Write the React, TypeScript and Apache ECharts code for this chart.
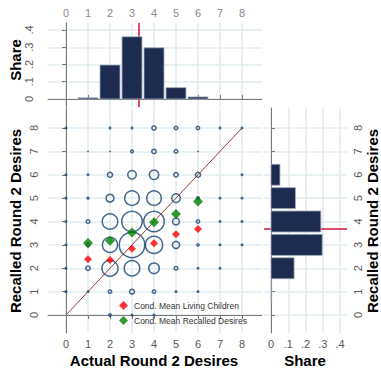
import React, { useEffect, useRef } from "react";
import * as echarts from "echarts";

const desireTicks = [0, 1, 2, 3, 4, 5, 6, 7, 8];
const shareTicks = [0, 0.1, 0.2, 0.3, 0.4];

// [actual desires, recalled desires, respondents]
const cells: [number, number, number][] = [
  [0, 8, 3], [2, 8, 3], [3, 8, 3], [4, 8, 11], [5, 8, 8], [6, 8, 8], [7, 8, 3], [8, 8, 3],
  [1, 7, 1], [2, 7, 1], [3, 7, 6], [4, 7, 12], [5, 7, 9], [6, 7, 1],
  [0, 6, 3], [1, 6, 3], [2, 6, 15], [3, 6, 35], [4, 6, 42], [5, 6, 12], [6, 6, 15], [8, 6, 3],
  [0, 5, 3], [1, 5, 4], [2, 5, 30], [3, 5, 89], [4, 5, 89], [5, 5, 35], [6, 5, 6], [7, 5, 3], [8, 5, 3],
  [0, 4, 3], [1, 4, 9], [2, 4, 100], [3, 4, 167], [4, 4, 167], [5, 4, 24], [6, 4, 8], [7, 4, 3], [8, 4, 3],
  [0, 3, 3], [1, 3, 9], [2, 3, 95], [3, 3, 252], [4, 3, 120], [5, 3, 26], [6, 3, 5], [7, 3, 3], [8, 3, 3],
  [0, 2, 3], [1, 2, 12], [2, 2, 105], [3, 2, 100], [4, 2, 50], [5, 2, 9], [6, 2, 3], [7, 2, 3],
  [0, 1, 3], [1, 1, 3], [2, 1, 8], [3, 1, 14], [4, 1, 8], [5, 1, 3], [6, 1, 3],
  [2, 0, 5], [3, 0, 3], [4, 0, 3],
];

// share of respondents by actual desires
const actualShare: [number, number][] = [
  [1, 0.007], [2, 0.197], [3, 0.361], [4, 0.297], [5, 0.066], [6, 0.012],
];
// share of respondents by recalled desires: [share, recalled]
const recalledShare: [number, number][] = [
  [0.004, 1], [0.134, 2], [0.297, 3], [0.289, 4], [0.142, 5], [0.052, 6],
];
const meanActual = 3.32;
const meanRecalled = 3.7;

const condMeanLiving: [number, number][] = [
  [1, 2.38], [2, 2.35], [3, 2.83], [4, 3.07], [5, 3.45], [6, 3.68],
];
const condMeanRecalled: [number, number][] = [
  [1, 3.08], [2, 3.18], [3, 3.53], [4, 3.97], [5, 4.32], [6, 4.86],
];
const diagonal: [number, number][] = [[0, 0], [8, 8]];

const X_MIN = -0.818, X_MAX = 8.909;
const Y_MIN = -0.77, Y_MAX = 8.856;
const S_MIN_TOP = -0.0464, S_MIN_RIGHT = -0.0406, S_MAX = 0.4406;

const NAVY = "#1a4270";
const BAR = "#1d2b50";
const GRID = "#e3ecef";
const AXIS = "#777777";
const LABEL = "#595959";
const MEAN_RED = "#d0103a";
const FONT = "Liberation Sans, Arial, sans-serif";

const shareFmt = (v: number) => (v === 0 ? "0" : "." + Math.round(v * 10));

export default function App() {
  const ref = useRef<HTMLDivElement>(null);
  useEffect(() => {
    if (!ref.current) return;
    const chart = echarts.init(ref.current, null, { renderer: "svg" });
    const split = { show: true, lineStyle: { color: GRID, width: 1.6 } };
    const axLine = { show: true, lineStyle: { color: AXIS, width: 1 } };
    const tick = (vals: number[]) => ({ show: true, length: 4, customValues: vals, lineStyle: { color: AXIS } });
    const lbl = (vals: number[], extra: any = {}) => ({
      customValues: vals, color: LABEL, fontSize: 11, fontFamily: FONT, ...extra,
    });
    const barRect = (fill: string) => ({ fill, stroke: "#a7b0c0", lineWidth: 0.8 });
    const meanLine = (xi: number, yi: number, d: any) => ({
      type: "line", xAxisIndex: xi, yAxisIndex: yi, z: 1, data: [], symbol: "none",
      markLine: {
        silent: true, symbol: "none", label: { show: false }, z: 1,
        lineStyle: { color: MEAN_RED, width: 1.5, type: "solid" },
        data: [d],
      },
    });

    chart.setOption({
      animation: false,
      backgroundColor: "#ffffff",
      textStyle: { fontFamily: FONT },
      grid: [
        { left: 48, top: 108, width: 214, height: 225 },
        { left: 48, top: 23, width: 214, height: 84 },
        { left: 264, top: 108, width: 83, height: 225 },
      ],
      xAxis: [
        {
          gridIndex: 0, type: "value", min: X_MIN, max: X_MAX, position: "bottom",
          axisLine: axLine, axisTick: tick(desireTicks), splitLine: split,
          axisLabel: lbl(desireTicks, { margin: 5 }),
        },
        {
          gridIndex: 1, type: "value", min: X_MIN, max: X_MAX, position: "top",
          axisLine: axLine, axisTick: tick(desireTicks), splitLine: split,
          axisLabel: lbl(desireTicks, { margin: 5, color: "#8a8a8a" }),
        },
        {
          gridIndex: 2, type: "value", min: S_MIN_RIGHT, max: S_MAX, position: "bottom",
          axisLine: { show: false }, axisTick: { show: false, customValues: shareTicks }, splitLine: split,
          axisLabel: lbl(shareTicks, { margin: 5, formatter: shareFmt }),
        },
      ],
      yAxis: [
        {
          gridIndex: 0, type: "value", min: Y_MIN, max: Y_MAX, position: "left",
          axisLine: axLine, axisTick: tick(desireTicks), splitLine: split,
          axisLabel: lbl(desireTicks, { rotate: 90, margin: 9 }),
        },
        {
          gridIndex: 1, type: "value", min: S_MIN_TOP, max: S_MAX, position: "left",
          axisLine: axLine, axisTick: tick(shareTicks), splitLine: split,
          axisLabel: lbl(shareTicks, { rotate: 90, margin: 14, formatter: shareFmt }),
        },
        {
          gridIndex: 2, type: "value", min: Y_MIN, max: Y_MAX, position: "right",
          axisLine: axLine, axisTick: tick(desireTicks), splitLine: split,
          axisLabel: lbl(desireTicks, { rotate: 90, margin: 5 }),
        },
      ],
      legend: {
        orient: "vertical", left: 119, top: 301, itemWidth: 9, itemHeight: 9, itemGap: 6,
        padding: 0, icon: "diamond",
        textStyle: { fontSize: 8.5, color: "#333333", fontFamily: FONT, padding: [0, 0, 0, 1] },
        data: ["Cond. Mean Living Children", "Cond. Mean Recalled Desires"],
      },
      series: [
        {
          type: "scatter", xAxisIndex: 0, yAxisIndex: 0, z: 2,
          data: cells.map(([x, y, n]) => {
            const d = 1.7 * Math.sqrt(n);
            const dot = n <= 3;
            return {
              value: [x, y],
              symbolSize: dot ? d : d - 1.5,
              itemStyle: dot
                ? { color: NAVY, borderWidth: 0 }
                : { color: "rgba(0,0,0,0)", borderColor: NAVY, borderWidth: 1.5 },
            };
          }),
          symbol: "circle",
          silent: true,
        },
        {
          type: "line", xAxisIndex: 0, yAxisIndex: 0, z: 3, data: diagonal,
          symbol: "none", lineStyle: { color: "#8f3b3b", width: 1 }, silent: true,
        },
        {
          name: "Cond. Mean Living Children", type: "scatter", xAxisIndex: 0, yAxisIndex: 0, z: 4,
          data: condMeanLiving, symbol: "diamond", symbolSize: 8,
          itemStyle: { color: "#ff0000" },
        },
        {
          name: "Cond. Mean Recalled Desires", type: "scatter", xAxisIndex: 0, yAxisIndex: 0, z: 5,
          data: condMeanRecalled, symbol: "diamond", symbolSize: 10,
          itemStyle: { color: "#008000" },
        },
        meanLine(1, 1, { xAxis: meanActual }),
        meanLine(2, 2, { yAxis: meanRecalled }),
        {
          type: "custom", xAxisIndex: 1, yAxisIndex: 1, z: 3, data: actualShare,
          renderItem: (_p: any, api: any) => {
            const x = api.value(0), v = api.value(1);
            const a = api.coord([x - 0.455, v]);
            const b = api.coord([x + 0.455, 0]);
            return { type: "rect", shape: { x: a[0], y: a[1], width: b[0] - a[0], height: b[1] - a[1] }, style: barRect(BAR) };
          },
        },
        {
          type: "custom", xAxisIndex: 2, yAxisIndex: 2, z: 3, data: recalledShare,
          renderItem: (_p: any, api: any) => {
            const v = api.value(0), y = api.value(1);
            const a = api.coord([0, y + 0.45]);
            const b = api.coord([v, y - 0.45]);
            return { type: "rect", shape: { x: a[0], y: a[1], width: b[0] - a[0], height: b[1] - a[1] }, style: barRect(BAR) };
          },
        },
      ],
      graphic: [
        { type: "text", x: 15, y: 60, rotation: Math.PI / 2, style: { text: "Share", font: `bold 15px ${FONT}`, fill: "#000", align: "center", verticalAlign: "middle" } },
        { type: "text", x: 15, y: 221, rotation: Math.PI / 2, style: { text: "Recalled Round 2 Desires", font: `bold 15px ${FONT}`, fill: "#000", align: "center", verticalAlign: "middle" } },
        { type: "text", x: 372, y: 221, rotation: Math.PI / 2, style: { text: "Recalled Round 2 Desires", font: `bold 15px ${FONT}`, fill: "#000", align: "center", verticalAlign: "middle" } },
        { type: "text", x: 154, y: 360, style: { text: "Actual Round 2 Desires", font: `bold 15px ${FONT}`, fill: "#000", align: "center", verticalAlign: "middle" } },
        { type: "text", x: 305, y: 360, style: { text: "Share", font: `bold 15px ${FONT}`, fill: "#000", align: "center", verticalAlign: "middle" } },
      ],
    });
    return () => chart.dispose();
  }, []);
  return <div ref={ref} style={{ position: "fixed", left: 0, top: 0, width: 381, height: 368 }} />;
}
